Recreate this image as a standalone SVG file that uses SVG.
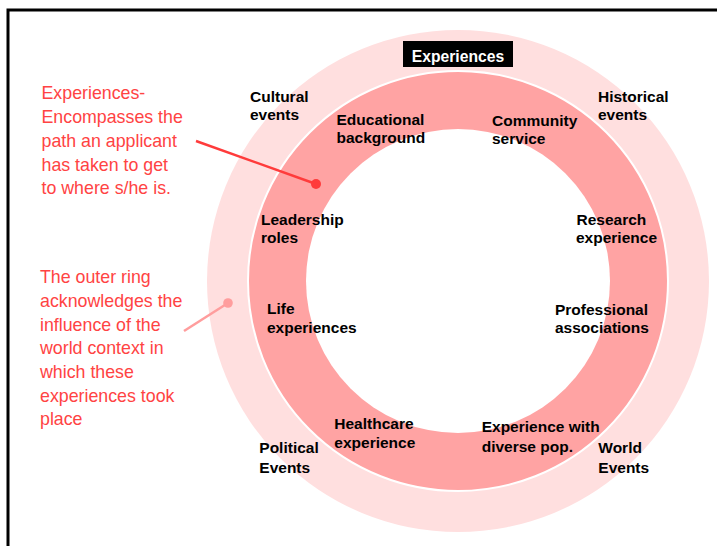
<svg xmlns="http://www.w3.org/2000/svg" width="717" height="546" viewBox="0 0 717 546">
<style>
.lbl{font-family:"Liberation Sans",Arial,sans-serif;font-weight:bold;font-size:15.5px;fill:#000}
.note{font-family:"Liberation Sans",Arial,sans-serif;font-size:17.8px;fill:#ff4343}
</style>
<rect width="717" height="546" fill="#fff"/>
<rect x="8" y="10" width="800" height="600" fill="none" stroke="#000" stroke-width="3"/>
<g id="outer-ring"><circle cx="458" cy="281" r="251" fill="#ffdfdf"/></g>
<g id="inner-ring"><circle cx="458" cy="281" r="210" fill="#ffa3a3" stroke="#fff" stroke-width="2"/><circle cx="458" cy="281" r="152" fill="#fff"/></g>
<g id="title"><rect x="403" y="41" width="110" height="26" fill="#000"/><text x="458" y="61.5" text-anchor="middle" class="lbl" style="fill:#fff;font-size:15.7px">Experiences</text></g>
<g id="cultural"><text class="lbl" x="250" y="101.7">Cultural</text><text class="lbl" x="250" y="120">events</text></g>
<g id="historical"><text class="lbl" x="598" y="101.7">Historical</text><text class="lbl" x="598" y="120">events</text></g>
<g id="educational"><text class="lbl" x="336.5" y="124.5">Educational</text><text class="lbl" x="336.5" y="143">background</text></g>
<g id="community"><text class="lbl" x="492" y="125.7">Community</text><text class="lbl" x="492" y="144">service</text></g>
<g id="leadership"><text class="lbl" x="261" y="225">Leadership</text><text class="lbl" x="261" y="243.3">roles</text></g>
<g id="research"><text class="lbl" x="576.5" y="225">Research</text><text class="lbl" x="576" y="243.3">experience</text></g>
<g id="life"><text class="lbl" x="267" y="314">Life</text><text class="lbl" x="267" y="333.3">experiences</text></g>
<g id="professional"><text class="lbl" x="555" y="315">Professional</text><text class="lbl" x="555" y="333.3">associations</text></g>
<g id="healthcare"><text class="lbl" x="334.3" y="428.5">Healthcare</text><text class="lbl" x="334.3" y="448">experience</text></g>
<g id="diverse"><text class="lbl" x="481.7" y="431.7">Experience with</text><text class="lbl" x="481.7" y="451.5">diverse pop.</text></g>
<g id="political"><text class="lbl" x="259.3" y="453.3">Political</text><text class="lbl" x="259.3" y="472.7">Events</text></g>
<g id="world"><text class="lbl" x="598.3" y="453.3">World</text><text class="lbl" x="598.3" y="472.7">Events</text></g>
<g id="note-experiences"><text class="note" x="41.5"><tspan x="41.5" y="99">Experiences-</tspan><tspan x="41.5" y="123">Encompasses the</tspan><tspan x="41.5" y="147">path an applicant</tspan><tspan x="41.5" y="170.7">has taken to get</tspan><tspan x="41.5" y="194">to where s/he is.</tspan></text></g>
<g id="note-outer"><text class="note"><tspan x="40" y="283.3">The outer ring</tspan><tspan x="40" y="307">acknowledges the</tspan><tspan x="40" y="330.5">influence of the</tspan><tspan x="40" y="354">world context in</tspan><tspan x="40" y="378">which these</tspan><tspan x="40" y="401.5">experiences took</tspan><tspan x="40" y="425">place</tspan></text></g>
<g id="connectors">
<line x1="196" y1="141" x2="316" y2="184" stroke="#ff3b3b" stroke-width="2.5"/>
<circle cx="316" cy="184" r="5" fill="#ff3b3b"/>
<line x1="184" y1="331" x2="228" y2="303" stroke="#ff9d9d" stroke-width="2.5"/>
<circle cx="228" cy="303" r="4.8" fill="#ff9d9d"/>
</g>
</svg>
